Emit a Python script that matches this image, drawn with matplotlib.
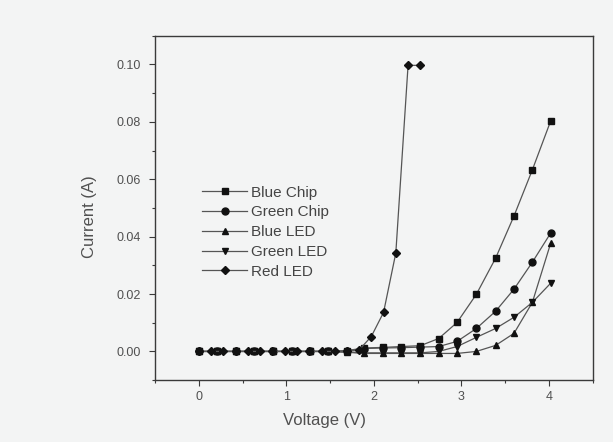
import numpy as np
import matplotlib
matplotlib.use("Agg")
import matplotlib.pyplot as plt

# chip / packaged-LED sweeps share one voltage grid, the red LED another
v_main = [0.00, 0.21, 0.42, 0.63, 0.85, 1.06, 1.27, 1.48, 1.69, 1.89,
          2.10, 2.31, 2.53, 2.74, 2.95, 3.17, 3.39, 3.60, 3.81, 4.02]
v_red = [0.00, 0.14, 0.28, 0.42, 0.56, 0.70, 0.84, 0.98, 1.12, 1.26,
         1.41, 1.55, 1.69, 1.83, 1.97, 2.11, 2.25, 2.39, 2.53]

i_blue_chip = [0.0, 0.0, 0.0, 0.0, 0.0, 0.0, 0.0, 0.0, 0.0003, 0.0012,
               0.0014, 0.0017, 0.0020, 0.0045, 0.0101, 0.0199, 0.0325, 0.0472, 0.0633, 0.0804]
i_green_chip = [0.0, 0.0, 0.0, 0.0, 0.0, 0.0, 0.0, 0.0, 0.0002, 0.0010,
                0.0012, 0.0013, 0.0015, 0.0017, 0.0035, 0.0080, 0.0140, 0.0217, 0.0311, 0.0413]
i_blue_led = [0.0, 0.0, 0.0, 0.0, 0.0, 0.0, 0.0, 0.0, -0.0003, -0.0007,
              -0.0007, -0.0007, -0.0007, -0.0007, -0.0007, 0.0, 0.0021, 0.0063, 0.0171, 0.0378]
i_green_led = [0.0, 0.0, 0.0, 0.0, 0.0, 0.0, 0.0, 0.0, -0.0002, -0.0005,
               -0.0005, -0.0005, -0.0005, 0.0, 0.0017, 0.0049, 0.0080, 0.0119, 0.0171, 0.0238]
i_red_led = [0.0, 0.0, 0.0, 0.0, 0.0, 0.0, 0.0, 0.0, 0.0, 0.0,
             0.0, 0.0, 0.0, 0.0005, 0.0052, 0.0136, 0.0343, 0.0997, 0.0997]

series = [
    ("Blue Chip", v_main, i_blue_chip, "s"),
    ("Green Chip", v_main, i_green_chip, "o"),
    ("Blue LED", v_main, i_blue_led, "^"),
    ("Green LED", v_main, i_green_led, "v"),
    ("Red LED", v_red, i_red_led, "D"),
]

paper = "#f3f4f4"
ink = "#3a3a3a"
grey_text = "#505050"
plt.rcParams["font.family"] = ["Liberation Sans", "DejaVu Sans"]

fig = plt.figure(figsize=(6.13, 4.42), dpi=100, facecolor=paper)
ax = fig.add_axes([0.253, 0.14, 0.714, 0.779], facecolor=paper)

for label, v, i, m in series:
    ms = 4.5 if m == "D" else 5
    ax.plot(v, i, marker=m, ms=ms, color="#555555", mfc="#111111", mec="#111111",
            lw=0.9, label=label)

ax.set_xlim(-0.5, 4.5)
ax.set_ylim(-0.01, 0.11)
ax.set_xticks([0, 1, 2, 3, 4])
ax.set_xticks(np.arange(-0.5, 4.6, 0.5), minor=True)
ax.set_yticks([0.0, 0.02, 0.04, 0.06, 0.08, 0.10])
ax.set_yticks(np.arange(-0.01, 0.111, 0.01), minor=True)
ax.set_yticklabels(["0.00", "0.02", "0.04", "0.06", "0.08", "0.10"])
ax.tick_params(which="major", direction="out", length=4, width=0.8, colors=ink,
               labelsize=9, labelcolor=grey_text)
ax.tick_params(axis="y", which="major", pad=6)
ax.tick_params(which="minor", direction="out", length=2, width=0.8, colors=ink)
for s in ax.spines.values():
    s.set_linewidth(1.0)
    s.set_color(ink)

ax.set_xlabel("Voltage (V)", fontsize=12, color=grey_text)
ax.set_ylabel("Current (A)", fontsize=12, color=grey_text)
ax.xaxis.set_label_coords(0.388, -0.096)
ax.yaxis.set_label_coords(-0.132, 0.474)

leg = ax.legend(loc="upper left", bbox_to_anchor=(0.108, 0.565), frameon=False,
                fontsize=11, handlelength=2.9, labelspacing=0.38, handletextpad=0.3,
                borderaxespad=0, borderpad=0)
for t in leg.get_texts():
    t.set_color("#444444")

fig.savefig("out.png", dpi=100, facecolor=paper)
